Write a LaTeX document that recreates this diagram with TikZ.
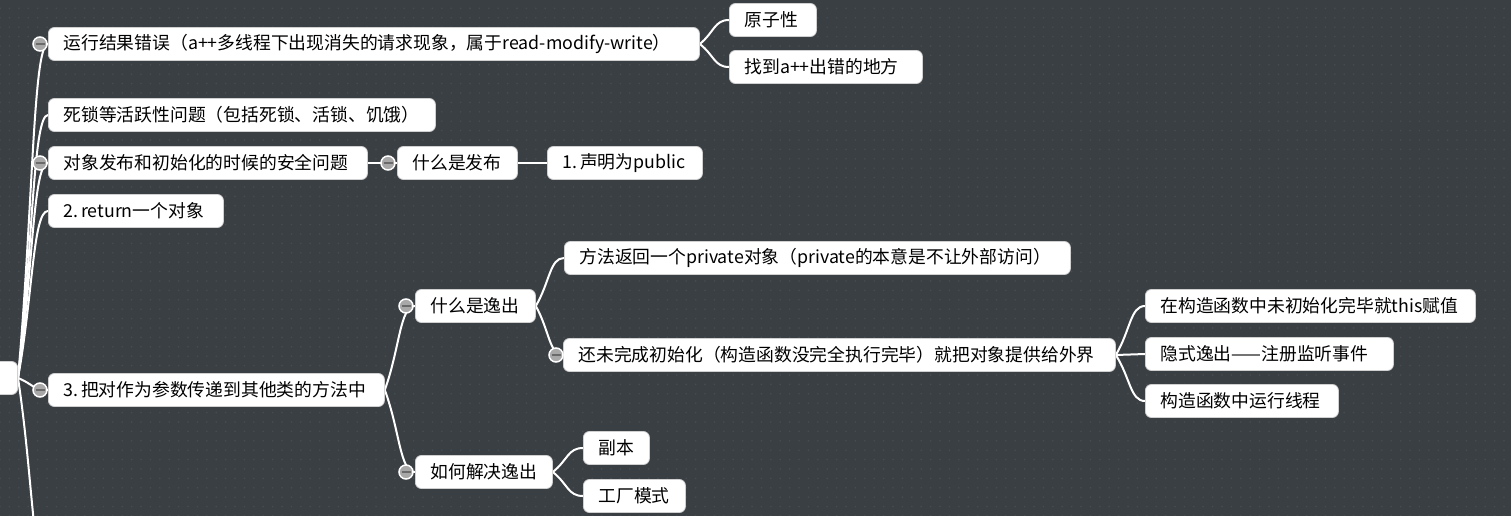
\documentclass[tikz,border=0pt]{standalone}
\usepackage{fontspec}
\newfontfamily\cjk{Noto Sans CJK SC}
\usetikzlibrary{patterns.meta,calc}
\definecolor{bgc}{HTML}{3A3F44}
\definecolor{dotc}{HTML}{474C52}
\definecolor{edgec}{HTML}{D0D0D0}
\definecolor{knobc}{HTML}{A8A8A8}
\definecolor{minusc}{HTML}{6A6A6A}
\pgfdeclarelayer{bg}
\pgfdeclarelayer{lines}
\pgfsetlayers{bg,lines,main}
\tikzset{
  box/.style={rectangle, rounded corners=6pt, fill=white, draw=edgec, line width=0.8pt,
    minimum height=33pt, inner xsep=15pt, inner ysep=0pt, anchor=west, align=left,
    text width=#1, font=\cjk\fontsize{17.8}{20}\selectfont, text=black},
  branch/.style={draw=white, line width=2pt, line cap=round,
    to path={let \p1=(\tikztostart), \p2=(\tikztotarget) in
      .. controls ($(\p1)!0.5!(\p2)$) and ({(\x1+\x2)/2},\y2) .. (\tikztotarget)}},
  knob/.style={circle, fill=knobc, draw=white, line width=1.5pt, minimum size=14pt, inner sep=0pt,
    path picture={\draw[minusc, line width=1.6pt]
      ([xshift=-4.5pt]path picture bounding box.center) -- ([xshift=4.5pt]path picture bounding box.center);}},
}
\begin{document}
\begin{tikzpicture}[x=1pt,y=-1pt]
\useasboundingbox (0,0) rectangle (1511,516);
\begin{pgfonlayer}{bg}
  \fill[bgc] (0,0) rectangle (1511,516);
  \fill[pattern={Dots[distance=9.4pt, radius=0.9pt]}, pattern color=dotc] (0,0) rectangle (1511,516);
\end{pgfonlayer}

% nodes (box width minus 31pt = text width)
\node[box=27pt, anchor=east] (root) at (18,378) {};
\node[box=621pt] (n1) at (48,44) {运行结果错误（a++多线程下出现消失的请求现象，属于read-modify-write）};
\node[box=57pt] (n1a) at (729,20) {原子性};
\node[box=163pt] (n1b) at (729,67) {找到a++出错的地方};
\node[box=357pt] (n2) at (48,115) {死锁等活跃性问题（包括死锁、活锁、饥饿）};
\node[box=289pt] (n3) at (48,163) {对象发布和初始化的时候的安全问题};
\node[box=90pt] (n3a) at (397,163) {什么是发布};
\node[box=125pt] (n3b) at (547,163) {1.\,声明为public};
\node[box=145pt] (n4) at (48,211) {2.\,return一个对象};
\node[box=306pt] (n5) at (48,390) {3.\,把对作为参数传递到其他类的方法中};
\node[box=90pt] (n5a) at (415,306) {什么是逸出};
\node[box=107pt] (n5b) at (415,472) {如何解决逸出};
\node[box=476pt] (n5a1) at (564,258) {方法返回一个private对象（private的本意是不让外部访问）};
\node[box=522pt] (n5a2) at (563,355) {还未完成初始化（构造函数没完全执行完毕）就把对象提供给外界};
\node[box=300pt] (n5a2a) at (1145,306) {在构造函数中未初始化完毕就this赋值};
\node[box=218pt] (n5a2b) at (1145,354) {隐式逸出——注册监听事件};
\node[box=163pt] (n5a2c) at (1145,401) {构造函数中运行线程};
\node[box=36pt] (n5b1) at (583,448) {副本};
\node[box=72pt] (n5b2) at (583,496) {工厂模式};
\coordinate (below) at (48,575);

\begin{pgfonlayer}{lines}
  \draw[branch] (root.east) to (n1.west);
  \draw[branch] (root.east) to (n2.west);
  \draw[branch] (root.east) to (n3.west);
  \draw[branch] (root.east) to (n4.west);
  \draw[branch] (root.east) to (n5.west);
  \draw[branch] (root.east) to (below);
  \draw[branch] (n1.east) to (n1a.west);
  \draw[branch] (n1.east) to (n1b.west);
  \draw[branch] (n3.east) to (n3a.west);
  \draw[branch] (n3a.east) to (n3b.west);
  \draw[branch] (n5.east) to (n5a.west);
  \draw[branch] (n5.east) to (n5b.west);
  \draw[branch] (n5a.east) to (n5a1.west);
  \draw[branch] (n5a.east) to (n5a2.west);
  \draw[branch] (n5a2.east) to (n5a2a.west);
  \draw[branch] (n5a2.east) to (n5a2b.west);
  \draw[branch] (n5a2.east) to (n5a2c.west);
  \draw[branch] (n5b.east) to (n5b1.west);
  \draw[branch] (n5b.east) to (n5b2.west);
\end{pgfonlayer}

% collapse knobs
\node[knob] (k1) at ([xshift=-8pt]n1.west) {};
\node[knob] (k3) at ([xshift=-8pt]n3.west) {};
\node[knob] (k5) at ([xshift=-8pt]n5.west) {};
\node[knob] (k3a) at ([xshift=-9pt]n3a.west) {};
\node[knob] (k5a) at ([xshift=-9pt]n5a.west) {};
\node[knob] (k5b) at ([xshift=-9pt]n5b.west) {};
\node[knob] (k5a2) at ([xshift=-7pt]n5a2.west) {};
\end{tikzpicture}
\end{document}
